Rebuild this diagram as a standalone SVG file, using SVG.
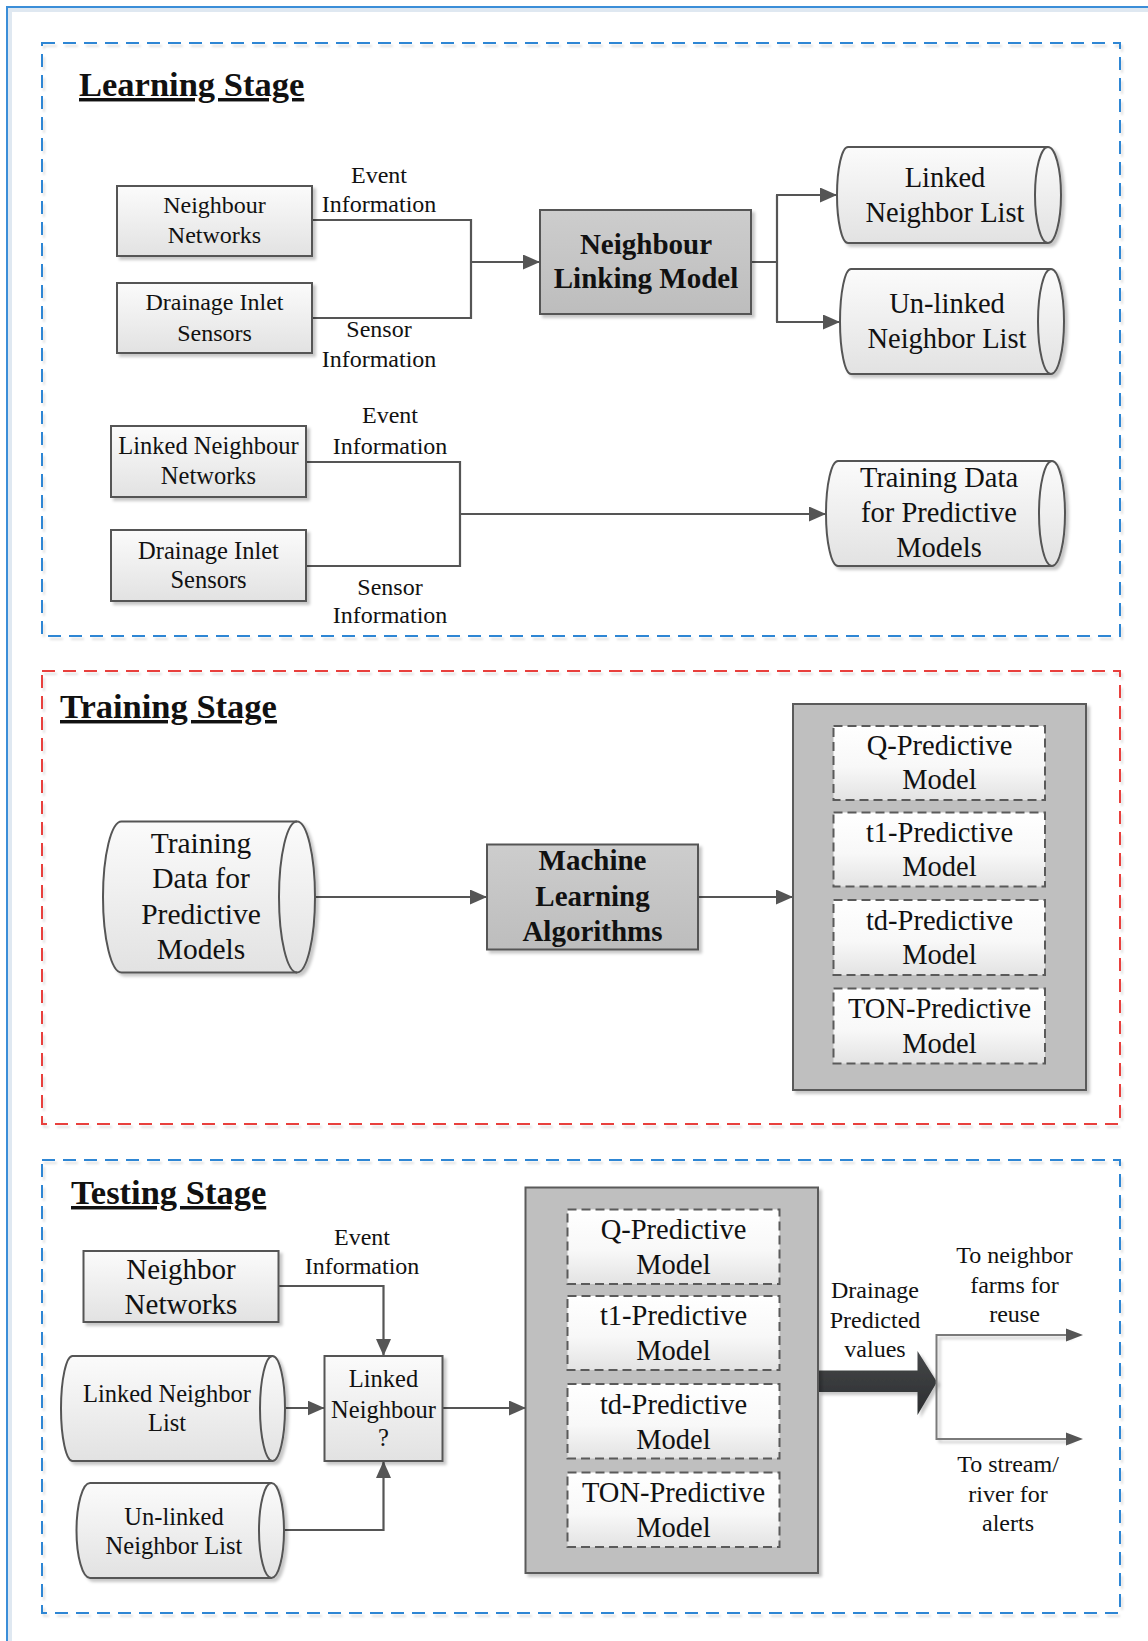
<svg xmlns="http://www.w3.org/2000/svg" width="1148" height="1641" viewBox="0 0 1148 1641">
  <defs>
    <style>
      text { font-family: "Liberation Serif", "Times New Roman", serif; fill: #111; text-anchor: middle; }
      .t { font-size: 24px; }
      .tm { font-size: 28.5px; }
      .tb { font-size: 29px; font-weight: bold; }
      .title { font-size: 34.5px; font-weight: bold; text-anchor: start; text-decoration: underline; }
      .box { fill: url(#gLight); stroke: #555; stroke-width: 2; filter: url(#shadow); }
      .gbox { fill: url(#gGray); stroke: #555; stroke-width: 2; filter: url(#shadow); }
      .cont { fill: #bfbfbf; stroke: #5a5a5a; stroke-width: 2; filter: url(#shadow); }
      .dbox { fill: url(#gWhite); stroke: #5a5a5a; stroke-width: 2; stroke-dasharray: 9 5; }
      .cyl { fill: url(#gLight); stroke: #555; stroke-width: 2; filter: url(#shadow); }
      .cylin { fill: none; stroke: #555; stroke-width: 2; }
      .stage { fill: none; stroke-width: 2; stroke-dasharray: 13 8; filter: url(#faint); }
      .blue { stroke: #2f86d4; }
      .red { stroke: #e8413c; }
      .conn { fill: none; stroke: #555; stroke-width: 2.2; }
      .arr { marker-end: url(#ah); }
      .split { fill: none; stroke: #7a7a7a; stroke-width: 2; filter: url(#shadow); }
    </style>
    <linearGradient id="gLight" x1="0" y1="0" x2="0" y2="1">
      <stop offset="0" stop-color="#fbfbfb"/>
      <stop offset="1" stop-color="#e2e2e2"/>
    </linearGradient>
    <linearGradient id="gWhite" x1="0" y1="0" x2="0" y2="1">
      <stop offset="0" stop-color="#ffffff"/>
      <stop offset="0.55" stop-color="#f8f8f8"/>
      <stop offset="1" stop-color="#e3e3e3"/>
    </linearGradient>
    <linearGradient id="gGray" x1="0" y1="0" x2="0" y2="1">
      <stop offset="0" stop-color="#cdcdcd"/>
      <stop offset="1" stop-color="#bdbdbd"/>
    </linearGradient>
    <linearGradient id="gDark" x1="0" y1="0" x2="0" y2="1">
      <stop offset="0" stop-color="#454749"/>
      <stop offset="1" stop-color="#2c2e30"/>
    </linearGradient>
    <filter id="shadow" x="-10%" y="-10%" width="130%" height="130%">
      <feDropShadow dx="3" dy="3" stdDeviation="1.8" flood-color="#000" flood-opacity="0.22"/>
    </filter>
    <filter id="faint" x="-5%" y="-5%" width="110%" height="110%">
      <feDropShadow dx="2" dy="3" stdDeviation="1" flood-color="#000" flood-opacity="0.12"/>
    </filter>
    <marker id="ah" viewBox="0 0 17 15" refX="17" refY="7.5" markerWidth="17" markerHeight="15" markerUnits="userSpaceOnUse" orient="auto">
      <path d="M0,0 L17,7.5 L0,15 z" fill="#555"/>
    </marker>
  </defs>

  <rect width="1148" height="1641" fill="#fff"/>

  <!-- page frame -->
  <path d="M10,1641 V10 H1148" fill="none" stroke="#dfe8f1" stroke-width="4"/>
  <path d="M7,1641 V7 H1148" fill="none" stroke="#3b8ed8" stroke-width="2"/>

  <!-- stage frames -->
  <g id="stages">
    <rect class="stage blue" x="42" y="43" width="1078" height="593"/>
    <rect class="stage red" x="42" y="671" width="1078" height="453"/>
    <rect class="stage blue" x="42" y="1160" width="1078" height="453"/>
    <text class="title" x="79" y="96">Learning Stage</text>
    <text class="title" x="60" y="718">Training Stage</text>
    <text class="title" x="71" y="1204">Testing Stage</text>
  </g>

  <!-- connectors -->
  <g id="connectors">
    <!-- learning: linking model -->
    <path class="conn" d="M312,220 H471 V318 H312"/>
    <path class="conn arr" d="M471,262 H540"/>
    <path class="conn" d="M751,262 H777 M777,195 V322"/>
    <path class="conn arr" d="M776,195 H837"/>
    <path class="conn arr" d="M776,322 H840"/>
    <!-- learning: training data -->
    <path class="conn" d="M306,462 H460 V566 H306"/>
    <path class="conn arr" d="M460,514 H826"/>
    <!-- training -->
    <path class="conn arr" d="M315,897 H487"/>
    <path class="conn arr" d="M698,897 H793"/>
    <!-- testing -->
    <path class="conn arr" d="M279,1286 H383.5 V1356"/>
    <path class="conn arr" d="M285,1408 H324.5"/>
    <path class="conn arr" d="M284,1530 H383.5 V1461"/>
    <path class="conn arr" d="M442.5,1408 H526"/>
    <path d="M818,1370.5 H917.5 V1351 L937,1382 L917.5,1415 V1392 H818 Z" fill="url(#gDark)" filter="url(#shadow)"/>
    <path class="split" d="M1070,1335 H936.5 V1439 H1070"/>
    <path d="M1066,1328.5 L1083,1335 L1066,1341.5 z M1066,1432.5 L1083,1439 L1066,1445.5 z" fill="#555"/>

    <text class="t" x="379" y="183">Event</text>
    <text class="t" x="379" y="212">Information</text>
    <text class="t" x="379" y="337">Sensor</text>
    <text class="t" x="379" y="367">Information</text>
    <text class="t" x="390" y="423">Event</text>
    <text class="t" x="390" y="454">Information</text>
    <text class="t" x="390" y="595">Sensor</text>
    <text class="t" x="390" y="623">Information</text>
    <text class="t" x="362" y="1245">Event</text>
    <text class="t" x="362" y="1274">Information</text>
    <text class="t" x="875" y="1298">Drainage</text>
    <text class="t" x="875" y="1328">Predicted</text>
    <text class="t" x="875" y="1357">values</text>
    <text class="t" x="1014.5" y="1263">To neighbor</text>
    <text class="t" x="1014.5" y="1293">farms for</text>
    <text class="t" x="1014.5" y="1322">reuse</text>
    <text class="t" x="1008" y="1472">To stream/</text>
    <text class="t" x="1008" y="1502">river for</text>
    <text class="t" x="1008" y="1531">alerts</text>
  </g>

  <!-- ===== Learning stage ===== -->
  <g id="neighbour-networks">
    <rect class="box" x="117" y="186" width="195" height="70"/>
    <text class="t" x="214.5" y="213">Neighbour</text>
    <text class="t" x="214.5" y="243">Networks</text>
  </g>
  <g id="drainage-sensors-1">
    <rect class="box" x="117" y="283" width="195" height="70"/>
    <text class="t" x="214.5" y="310">Drainage Inlet</text>
    <text class="t" x="214.5" y="341">Sensors</text>
  </g>
  <g id="neighbour-linking-model">
    <rect class="gbox" x="540" y="210" width="211" height="104"/>
    <text class="tb" x="646" y="254">Neighbour</text>
    <text class="tb" x="646" y="288">Linking Model</text>
  </g>
  <g id="linked-list-1">
    <path class="cyl" d="M848,147 H1048 A13,48 0 0 1 1048,243 H848 A11,48 0 0 1 848,147 Z"/>
    <path class="cylin" d="M1048,147 A13,48 0 0 0 1048,243"/>
    <text class="tm" x="945" y="187">Linked</text>
    <text class="tm" x="945" y="222">Neighbor List</text>
  </g>
  <g id="unlinked-list-1">
    <path class="cyl" d="M851,269 H1051 A13,52.5 0 0 1 1051,374 H851 A11,52.5 0 0 1 851,269 Z"/>
    <path class="cylin" d="M1051,269 A13,52.5 0 0 0 1051,374"/>
    <text class="tm" x="947" y="313">Un-linked</text>
    <text class="tm" x="947" y="348">Neighbor List</text>
  </g>
  <g id="linked-neighbour-networks">
    <rect class="box" x="111" y="426" width="195" height="71"/>
    <text class="t" x="208.5" y="454" style="font-size:24.5px">Linked Neighbour</text>
    <text class="t" x="208.5" y="484" style="font-size:24.5px">Networks</text>
  </g>
  <g id="drainage-sensors-2">
    <rect class="box" x="111" y="530" width="195" height="71"/>
    <text class="t" x="208.5" y="559" style="font-size:24.5px">Drainage Inlet</text>
    <text class="t" x="208.5" y="588" style="font-size:24.5px">Sensors</text>
  </g>
  <g id="training-data-1">
    <path class="cyl" d="M838,461 H1052 A13,52.5 0 0 1 1052,566 H838 A12,52.5 0 0 1 838,461 Z"/>
    <path class="cylin" d="M1052,461 A13,52.5 0 0 0 1052,566"/>
    <text class="tm" x="939" y="487">Training Data</text>
    <text class="tm" x="939" y="522">for Predictive</text>
    <text class="tm" x="939" y="557">Models</text>
  </g>

  <!-- ===== Training stage ===== -->
  <g id="training-data-2">
    <path class="cyl" d="M121.5,821.5 H297 A18,75.5 0 0 1 297,972.5 H121.5 A18.5,75.5 0 0 1 121.5,821.5 Z"/>
    <path class="cylin" d="M297,821.5 A18,75.5 0 0 0 297,972.5"/>
    <text class="tm" x="201" y="853" style="font-size:29.5px">Training</text>
    <text class="tm" x="201" y="888" style="font-size:29.5px">Data for</text>
    <text class="tm" x="201" y="924" style="font-size:29.5px">Predictive</text>
    <text class="tm" x="201" y="959" style="font-size:29.5px">Models</text>
  </g>
  <g id="ml-algorithms">
    <rect class="gbox" x="487" y="844.5" width="211" height="105"/>
    <text class="tb" x="592.5" y="870">Machine</text>
    <text class="tb" x="592.5" y="906">Learning</text>
    <text class="tb" x="592.5" y="941">Algorithms</text>
  </g>
  <g id="models-trained">
    <rect class="cont" x="793" y="704" width="293" height="386"/>
    <rect class="dbox" x="833.5" y="726" width="211.5" height="74"/>
    <text class="tm" x="939.5" y="755">Q-Predictive</text>
    <text class="tm" x="939.5" y="788.5">Model</text>
    <rect class="dbox" x="833.5" y="812.5" width="211.5" height="74"/>
    <text class="tm" x="939.5" y="841.5">t1-Predictive</text>
    <text class="tm" x="939.5" y="876">Model</text>
    <rect class="dbox" x="833.5" y="900" width="211.5" height="75"/>
    <text class="tm" x="939.5" y="929.5">td-Predictive</text>
    <text class="tm" x="939.5" y="964">Model</text>
    <rect class="dbox" x="833.5" y="988.5" width="211.5" height="75"/>
    <text class="tm" x="939.5" y="1018">TON-Predictive</text>
    <text class="tm" x="939.5" y="1052.5">Model</text>
  </g>

  <!-- ===== Testing stage ===== -->
  <g id="neighbor-networks">
    <rect class="box" x="83.5" y="1251" width="195" height="71"/>
    <text class="tm" x="181" y="1279" style="font-size:29px">Neighbor</text>
    <text class="tm" x="181" y="1314" style="font-size:29px">Networks</text>
  </g>
  <g id="linked-neighbour-check">
    <rect class="box" x="324.5" y="1356" width="118" height="105"/>
    <text class="t" x="383.5" y="1387" style="font-size:24.5px">Linked</text>
    <text class="t" x="383.5" y="1418" style="font-size:24.5px">Neighbour</text>
    <text class="t" x="383.5" y="1446" style="font-size:24.5px">?</text>
  </g>
  <g id="linked-list-2">
    <path class="cyl" d="M72.5,1356 H272.5 A12.5,52.5 0 0 1 272.5,1461 H72.5 A11.5,52.5 0 0 1 72.5,1356 Z"/>
    <path class="cylin" d="M272.5,1356 A12.5,52.5 0 0 0 272.5,1461"/>
    <text class="t" x="167" y="1402" style="font-size:24.5px">Linked Neighbor</text>
    <text class="t" x="167" y="1431" style="font-size:24.5px">List</text>
  </g>
  <g id="unlinked-list-2">
    <path class="cyl" d="M90,1483 H271.5 A12.5,47.5 0 0 1 271.5,1578 H90 A13.5,47.5 0 0 1 90,1483 Z"/>
    <path class="cylin" d="M271.5,1483 A12.5,47.5 0 0 0 271.5,1578"/>
    <text class="t" x="174" y="1525" style="font-size:24.5px">Un-linked</text>
    <text class="t" x="174" y="1554" style="font-size:24.5px">Neighbor List</text>
  </g>
  <g id="models-deployed">
    <rect class="cont" x="525.5" y="1187.5" width="292.5" height="385.5"/>
    <rect class="dbox" x="567.5" y="1209.5" width="212" height="74.5"/>
    <text class="tm" x="673.5" y="1238.5">Q-Predictive</text>
    <text class="tm" x="673.5" y="1273.5">Model</text>
    <rect class="dbox" x="567.5" y="1296" width="212" height="74"/>
    <text class="tm" x="673.5" y="1325">t1-Predictive</text>
    <text class="tm" x="673.5" y="1360">Model</text>
    <rect class="dbox" x="567.5" y="1384" width="212" height="74.5"/>
    <text class="tm" x="673.5" y="1413.5">td-Predictive</text>
    <text class="tm" x="673.5" y="1448.5">Model</text>
    <rect class="dbox" x="567.5" y="1472.5" width="212" height="74.5"/>
    <text class="tm" x="673.5" y="1502">TON-Predictive</text>
    <text class="tm" x="673.5" y="1537">Model</text>
  </g>
</svg>
